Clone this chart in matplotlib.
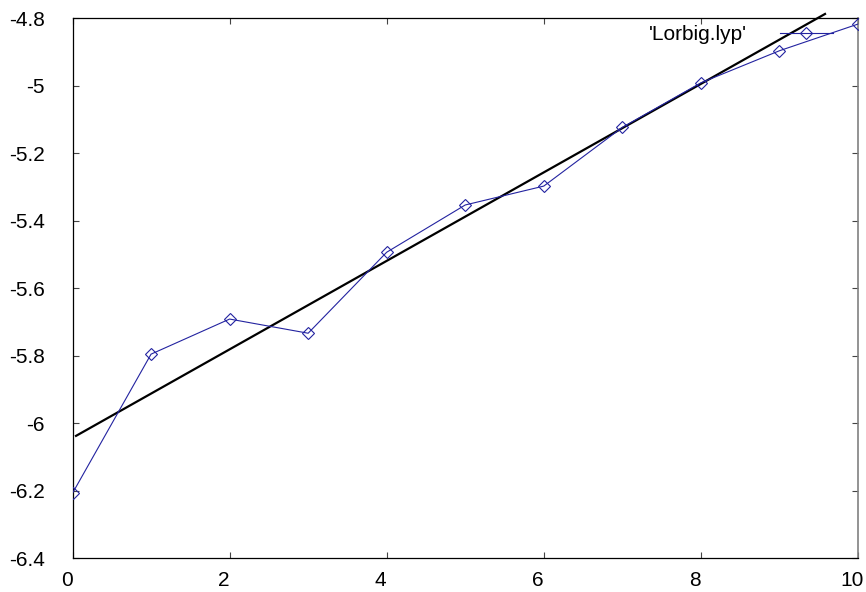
import matplotlib
matplotlib.use("Agg")
import matplotlib.pyplot as plt
import matplotlib.transforms as mtransforms
import numpy as np

# Lyapunov estimate per step and the straight-line fit drawn over it
steps = [0, 1, 2, 3, 4, 5, 6, 7, 8, 9, 10]
lyap = [-6.208, -5.796, -5.692, -5.734, -5.494, -5.354, -5.298, -5.124, -4.992, -4.897, -4.818]
fit_intercept = -6.044
fit_slope = 0.1311
fit_range = [0.045, 9.58]

xticks = [0, 2, 4, 6, 8, 10]
yticks = [-6.4, -6.2, -6.0, -5.8, -5.6, -5.4, -5.2, -5.0, -4.8]
ytick_labels = ["-6.4", "-6.2", "-6", "-5.8", "-5.6", "-5.4", "-5.2", "-5", "-4.8"]

plt.rcParams["font.family"] = ["Liberation Sans", "DejaVu Sans"]
plt.rcParams["font.size"] = 15

fig = plt.figure(figsize=(8.66, 5.92), dpi=100)
ax = fig.add_axes([72.5 / 866, 1 - 558 / 592, (858 - 72.5) / 866, (558 - 18) / 592])

blue = "#2323a0"
ax.plot(steps, lyap, color=blue, lw=0.8, marker="D", markersize=6,
        markerfacecolor="none", markeredgecolor=blue, markeredgewidth=0.8,
        label="'Lorbig.lyp'", zorder=3)

fx = np.array(fit_range)
ax.plot(fx, fit_intercept + fit_slope * fx, color="black", lw=1.6,
        clip_on=False, zorder=2)

ax.set_xlim(0, 10)
ax.set_ylim(-6.4, -4.8)
ax.set_xticks(xticks)
ax.set_xticklabels([str(t) for t in xticks])
ax.set_yticks(yticks)
ax.set_yticklabels(ytick_labels)

ax.tick_params(direction="in", length=4.5, width=0.8, top=True, right=True,
               color="#444444")
ax.tick_params(axis="y", pad=20)
ax.tick_params(axis="x", pad=9)

# nudge the x labels a little to the left
shift = mtransforms.ScaledTranslation(-6 / 100, 0, fig.dpi_scale_trans)
for lbl in ax.get_xticklabels():
    lbl.set_transform(lbl.get_transform() + shift)

for side in ["left", "bottom", "top"]:
    ax.spines[side].set_linewidth(0.9)
    ax.spines[side].set_color("black")
ax.spines["right"].set_linewidth(1.2)
ax.spines["right"].set_color("#808080")

ax.legend(loc="center right", bbox_to_anchor=(833 / 866, 1 - 35 / 592),
          bbox_transform=fig.transFigure, frameon=False, markerfirst=False,
          handlelength=2.55, handletextpad=1.6, borderpad=0, borderaxespad=0)

fig.savefig("out.png", dpi=100)
